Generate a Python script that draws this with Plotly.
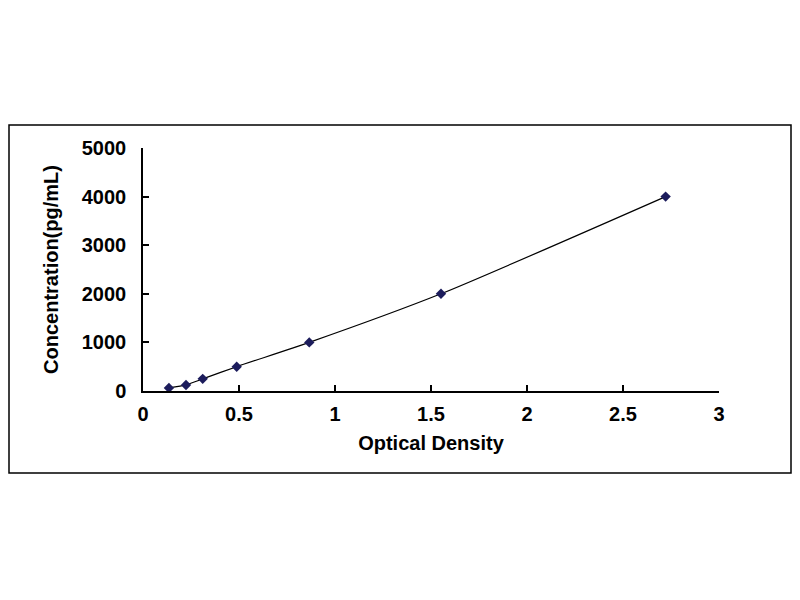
import plotly.graph_objects as go

# standard curve readings
od_values = [0.135, 0.224, 0.311, 0.488, 0.866, 1.552, 2.722]
concentration = [62.5, 125, 250, 500, 1000, 2000, 4000]

x_ticks = [0, 0.5, 1, 1.5, 2, 2.5, 3]
x_tick_labels = ["0", "0.5", "1", "1.5", "2", "2.5", "3"]
y_ticks = [0, 1000, 2000, 3000, 4000, 5000]
y_tick_labels = ["0", "1000", "2000", "3000", "4000", "5000"]

OFF = 8  # page body margin in the viewer
W, H = 800 - 2 * OFF, 600 - 2 * OFF  # keep the figure inside the window
# plot area in pixels (as seen on the page)
PL, PR, PT, PB = 143, 719, 148, 391


def px_x(v):
    return (v - PL) / (PR - PL)


def px_y(v):
    return (PB - v) / (PB - PT)


font = dict(family="Liberation Sans, Arial, sans-serif", size=20, color="black")

fig = go.Figure()
fig.add_trace(
    go.Scatter(
        x=od_values,
        y=concentration,
        mode="lines+markers",
        line=dict(color="black", width=1.2, shape="spline", smoothing=0.6),
        marker=dict(symbol="diamond", size=8, color="#1c1c5c"),
        hoverinfo="x+y",
    )
)

fig.update_xaxes(
    range=[0, 3],
    tickvals=x_ticks,
    ticktext=x_tick_labels,
    ticks="inside",
    ticklen=6,
    tickwidth=1.5,
    tickcolor="black",
    showline=True,
    linecolor="black",
    linewidth=1.5,
    showgrid=False,
    zeroline=False,
    ticklabelstandoff=4,
    tickfont=dict(font, weight="bold"),
    title=dict(text="<b>Optical Density</b>", font=font, standoff=12),
)
fig.update_yaxes(
    range=[0, 5000],
    tickvals=y_ticks,
    ticktext=y_tick_labels,
    ticks="inside",
    ticklen=6,
    tickwidth=1.5,
    tickcolor="black",
    showline=True,
    linecolor="black",
    linewidth=1.5,
    showgrid=False,
    zeroline=False,
    ticklabelstandoff=11,
    tickfont=dict(font, weight="bold"),
    title=dict(text="<b>Concentration(pg/mL)</b>", font=font, standoff=18),
)

fig.update_layout(
    width=W,
    height=H,
    margin=dict(
        l=PL - OFF,
        r=W - (PR - OFF),
        t=PT - OFF,
        b=H - (PB - OFF),
        pad=0,
    ),
    paper_bgcolor="white",
    plot_bgcolor="white",
    showlegend=False,
    shapes=[
        # outer chart frame, pulled in to the figure edge where needed
        dict(
            type="rect",
            xref="paper",
            yref="paper",
            x0=px_x(OFF + 1),
            x1=px_x(OFF + W - 1),
            y0=px_y(473),
            y1=px_y(125),
            line=dict(color="black", width=1.5),
            fillcolor="rgba(0,0,0,0)",
            layer="below",
        )
    ],
)

fig.write_html("out.html")
